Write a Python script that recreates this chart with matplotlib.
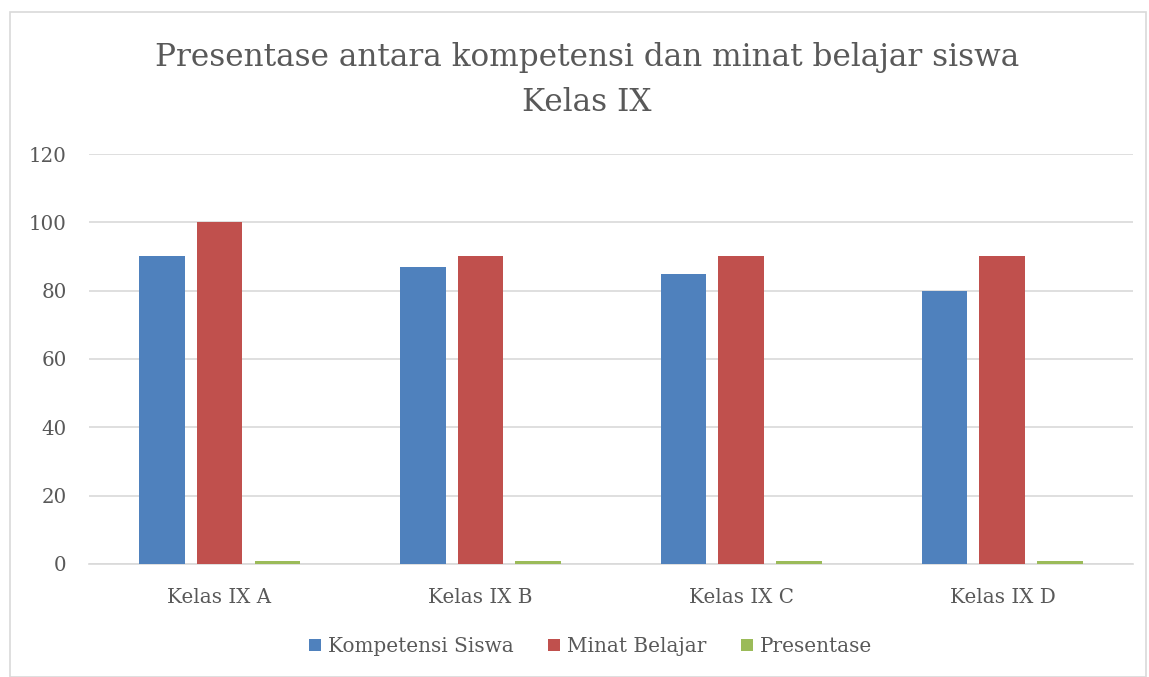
import numpy as np
import matplotlib.pyplot as plt
from matplotlib.patches import Rectangle

kelas = ['Kelas IX A', 'Kelas IX B', 'Kelas IX C', 'Kelas IX D']
kompetensi = [90, 87, 85, 80]
minat = [100, 90, 90, 90]
presentase = [0.9, 0.87, 0.85, 0.8]

series_names = ['Kompetensi Siswa', 'Minat Belajar', 'Presentase']
colors = ['#4F81BD', '#C0504D', '#9BBB59']
text_color = '#595959'
font = 'DejaVu Serif'

plt.rcParams['font.family'] = [font]

fig = plt.figure(figsize=(11.49, 6.77), dpi=100)
ax = fig.add_axes([0.0775, 0.167, 0.9085, 0.6055])

x = np.arange(len(kelas))
w = 0.176
step = 0.222
for i, (vals, name, c) in enumerate(zip([kompetensi, minat, presentase], series_names, colors)):
    ax.bar(x + (i - 1) * step, vals, width=w, color=c, label=name, zorder=3)

ax.set_xlim(-0.5, 3.5)
ax.set_ylim(0, 120)
ax.set_yticks(range(0, 121, 20))
ax.set_xticks(x)
ax.set_xticklabels(kelas)
ax.grid(axis='y', color='#d9d9d9', linewidth=1.2, zorder=0)
for s in ['top', 'right', 'left']:
    ax.spines[s].set_visible(False)
ax.spines['bottom'].set_color('#d9d9d9')
ax.spines['bottom'].set_linewidth(1.2)
ax.tick_params(axis='both', length=0, labelsize=14.3, colors=text_color)
ax.tick_params(axis='y', pad=16)
ax.tick_params(axis='x', pad=17)

fig.text(0.511, 0.882, 'Presentase antara kompetensi dan minat belajar siswa\nKelas IX',
         ha='center', va='center', fontsize=22.4, color=text_color, linespacing=1.6)

fig.legend(loc='center', bbox_to_anchor=(0.514, 0.045), ncol=3, frameon=False,
           fontsize=14.4, labelcolor=text_color, handlelength=0.6, handleheight=0.6,
           handletextpad=0.35, columnspacing=1.7)

fig.patches.append(Rectangle((10 / 1149, 0), 1136 / 1149, 1 - 12 / 677, transform=fig.transFigure,
                             fill=False, edgecolor='#d9d9d9', linewidth=1.2))

plt.savefig('out.png', dpi=100)
